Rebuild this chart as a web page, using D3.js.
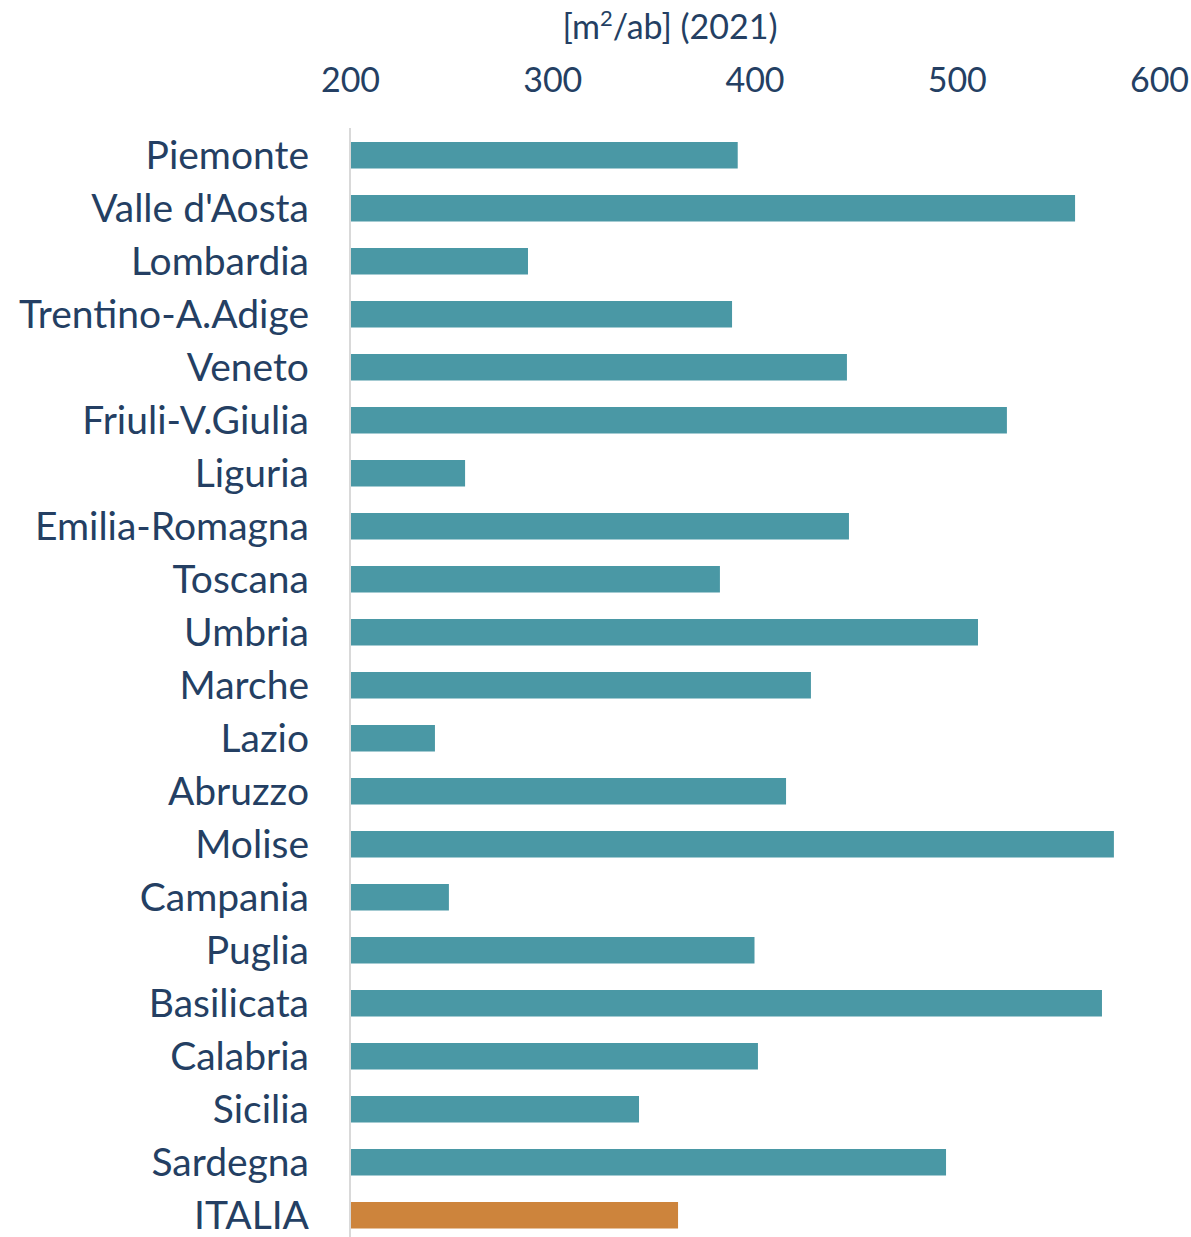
<!DOCTYPE html>
<html>
<head>
<meta charset="utf-8">
<script src="https://cdn.jsdelivr.net/npm/d3@7"></script>
<style>
  html, body { margin: 0; padding: 0; background: #fff; }
  svg text { font-family: Lato, "Open Sans", sans-serif; fill: #243F63; }
</style>
</head>
<body>
<svg id="chart" width="1191" height="1237"></svg>
<script>
// Regional values, m² per inhabitant (2021)
const regions = ["Piemonte", "Valle d'Aosta", "Lombardia", "Trentino-A.Adige", "Veneto",
  "Friuli-V.Giulia", "Liguria", "Emilia-Romagna", "Toscana", "Umbria", "Marche", "Lazio",
  "Abruzzo", "Molise", "Campania", "Puglia", "Basilicata", "Calabria", "Sicilia",
  "Sardegna", "ITALIA"];
const values = [391.7, 558.5, 288, 388.9, 445.7, 524.8, 256.9, 446.7, 382.9, 510.5,
  427.9, 242, 415.6, 577.7, 248.9, 400, 571.8, 401.7, 342.9, 494.7, 362.2];
const tickValues = [200, 300, 400, 500, 600];
const axisTitle = "(2021)";

const svg = d3.select("#chart");

const x = d3.scaleLinear().domain([200, 600]).range([350, 1159]);
const y = d3.scaleBand().domain(regions).range([128.75, 1241.75])
  .paddingInner(0.5).paddingOuter(0.25);

const data = regions.map((r, i) => ({ region: r, value: values[i] }));

// bars
svg.append("g").selectAll("rect").data(data).join("rect")
  .attr("x", x(200))
  .attr("y", d => y(d.region))
  .attr("width", d => x(d.value) - x(200))
  .attr("height", y.bandwidth())
  .attr("fill", d => d.region === "ITALIA" ? "#CD843C" : "#4A98A5");

// baseline
svg.append("line")
  .attr("x1", x(200)).attr("x2", x(200))
  .attr("y1", 128).attr("y2", 1237)
  .attr("stroke", "#D9D9D9").attr("stroke-width", 2);

// top axis labels
const xAxis = d3.axisTop(x).tickValues(tickValues).tickSize(0).tickPadding(0);
const gx = svg.append("g").attr("transform", "translate(0,92)").call(xAxis);
gx.select(".domain").remove();
gx.selectAll("text").attr("font-size", 34).attr("fill", "#243F63")
  .attr("font-family", "Lato, 'Open Sans', sans-serif");

// category labels
const yAxis = d3.axisLeft(y).tickSize(0).tickPadding(0);
const gy = svg.append("g").attr("transform", "translate(309,0)").call(yAxis);
gy.select(".domain").remove();
gy.selectAll("text").attr("font-size", 39).attr("fill", "#243F63")
  .attr("font-family", "Lato, 'Open Sans', sans-serif")
  .attr("dy", "0.34em");

// unit title
const title = svg.append("text")
  .attr("x", 670).attr("y", 39)
  .attr("text-anchor", "middle")
  .attr("font-size", 34);
title.append("tspan").text("[m");
title.append("tspan").text("2").attr("font-size", 22).attr("dy", -13);
title.append("tspan").text("/ab] " + axisTitle).attr("dy", 13);
</script>
</body>
</html>
